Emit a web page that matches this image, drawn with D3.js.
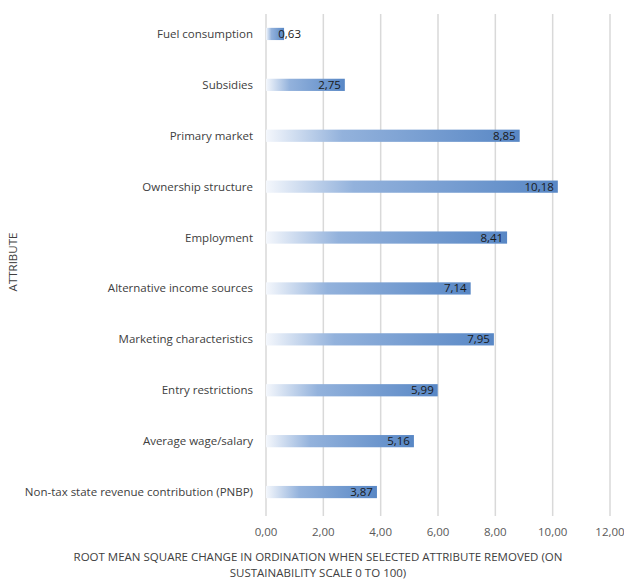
<!DOCTYPE html>
<html>
<head>
<meta charset="utf-8">
<script src="https://cdnjs.cloudflare.com/ajax/libs/d3/7.8.5/d3.min.js"></script>
<style>
  body { margin: 0; background: #fff; }
  text { font-family: "Open Sans", "Liberation Sans", sans-serif; }
</style>
</head>
<body>
<div id="chart"></div>
<script>
// data (top to bottom)
const attributes = ["Fuel consumption", "Subsidies", "Primary market", "Ownership structure",
  "Employment", "Alternative income sources", "Marketing characteristics",
  "Entry restrictions", "Average wage/salary", "Non-tax state revenue contribution (PNBP)"];
const rmsValues = [0.63, 2.75, 8.85, 10.18, 8.41, 7.14, 7.95, 5.99, 5.16, 3.87];
const xTicks = [0, 2, 4, 6, 8, 10, 12];

const W = 624, H = 581;
const MARGIN = {left: 266, right: 14, top: 8.5, bottom: 63.5};

const svg = d3.select("#chart").append("svg")
  .attr("width", W).attr("height", H);

const x = d3.scaleLinear().domain([0, 12]).range([MARGIN.left, W - MARGIN.right]);
const y = d3.scaleBand().domain(attributes)
  .range([MARGIN.top, H - MARGIN.bottom]).paddingInner(0.76).paddingOuter(0.38);

// gradient fill like the original
const grad = svg.append("defs").append("linearGradient")
  .attr("id", "barGrad").attr("x1", "0%").attr("x2", "100%").attr("y1", "0%").attr("y2", "0%");
grad.append("stop").attr("offset", "0%").attr("stop-color", "#f4f7fc");
grad.append("stop").attr("offset", "30%").attr("stop-color", "#93b2dc");
grad.append("stop").attr("offset", "100%").attr("stop-color", "#5887c5");

// gridlines
svg.append("g").selectAll("line")
  .data(xTicks)
  .join("line")
  .attr("x1", d => x(d)).attr("x2", d => x(d))
  .attr("y1", 14).attr("y2", 516)
  .attr("stroke", "#d9d9d9").attr("stroke-width", 1.5);

// bars
svg.append("g").selectAll("rect")
  .data(rmsValues)
  .join("rect")
  .attr("x", x(0))
  .attr("y", (d, i) => y(attributes[i]))
  .attr("width", d => x(d) - x(0))
  .attr("height", y.bandwidth())
  .attr("fill", "url(#barGrad)");

// value labels (inside end)
svg.append("g").selectAll("text")
  .data(rmsValues)
  .join("text")
  .attr("x", d => Math.max(x(d) - 4, x(0) + 35))
  .attr("y", (d, i) => y(attributes[i]) + y.bandwidth() / 2)
  .attr("dy", "0.35em")
  .attr("text-anchor", "end")
  .attr("font-size", "11.5px")
  .attr("fill", "#1a1a1a")
  .text(d => d.toFixed(2).replace(".", ","));

// category labels
svg.append("g").selectAll("text")
  .data(attributes)
  .join("text")
  .attr("x", MARGIN.left - 13)
  .attr("y", d => y(d) + y.bandwidth() / 2)
  .attr("dy", "0.35em")
  .attr("text-anchor", "end")
  .attr("font-size", "11.5px")
  .attr("fill", "#404040")
  .text(d => d);

// x tick labels
svg.append("g").selectAll("text")
  .data(xTicks)
  .join("text")
  .attr("x", d => x(d))
  .attr("y", 536)
  .attr("text-anchor", "middle")
  .attr("font-size", "11.5px")
  .attr("fill", "#595959")
  .text(d => d.toFixed(2).replace(".", ","));

// axis titles
const xt = svg.append("text")
  .attr("text-anchor", "middle")
  .attr("font-size", "11.5px")
  .attr("fill", "#404040");
xt.append("tspan").attr("x", 318).attr("y", 561)
  .text("ROOT MEAN SQUARE CHANGE IN ORDINATION WHEN SELECTED ATTRIBUTE REMOVED (ON");
xt.append("tspan").attr("x", 318).attr("y", 577)
  .text("SUSTAINABILITY SCALE 0 TO 100)");

svg.append("text")
  .attr("transform", "translate(17,262) rotate(-90)")
  .attr("text-anchor", "middle")
  .attr("font-size", "11.5px")
  .attr("fill", "#404040")
  .text("ATTRIBUTE");
</script>
</body>
</html>
